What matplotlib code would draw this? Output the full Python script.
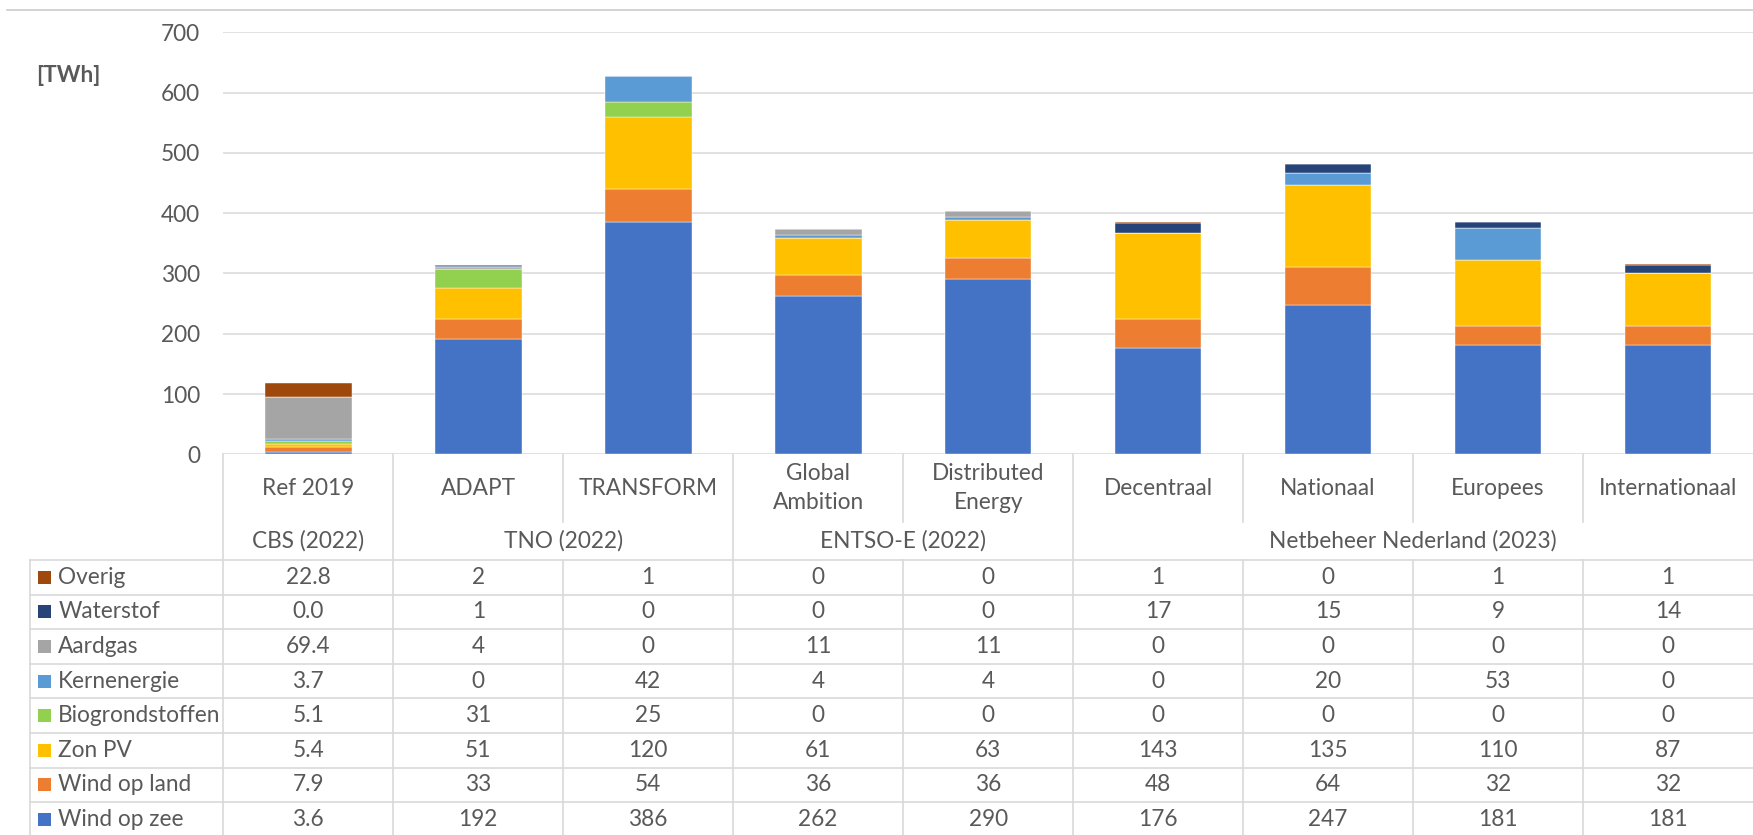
import matplotlib
matplotlib.use("Agg")
import matplotlib.pyplot as plt
from matplotlib.lines import Line2D
from matplotlib.patches import Rectangle
from matplotlib.transforms import blended_transform_factory
import numpy as np

plt.rcParams['font.family'] = ['Lato', 'DejaVu Sans']

# ---- data -------------------------------------------------------------
categories = ["Ref 2019", "ADAPT", "TRANSFORM", "Global\nAmbition", "Distributed\nEnergy",
              "Decentraal", "Nationaal", "Europees", "Internationaal"]
sources = ["CBS (2022)", "TNO (2022)", "ENTSO-E (2022)", "Netbeheer Nederland (2023)"]
source_span = [1, 2, 2, 4]

series_names = ["Wind op zee", "Wind op land", "Zon PV", "Biogrondstoffen",
                "Kernenergie", "Aardgas", "Waterstof", "Overig"]
wind_op_zee = [3.6, 192, 386, 262, 290, 176, 247, 181, 181]
wind_op_land = [7.9, 33, 54, 36, 36, 48, 64, 32, 32]
zon_pv = [5.4, 51, 120, 61, 63, 143, 135, 110, 87]
biogrondstoffen = [5.1, 31, 25, 0, 0, 0, 0, 0, 0]
kernenergie = [3.7, 0, 42, 4, 4, 0, 20, 53, 0]
aardgas = [69.4, 4, 0, 11, 11, 0, 0, 0, 0]
waterstof = [0.0, 1, 0, 0, 0, 17, 15, 9, 14]
overig = [22.8, 2, 1, 0, 0, 1, 0, 1, 1]
series_values = [wind_op_zee, wind_op_land, zon_pv, biogrondstoffen,
                 kernenergie, aardgas, waterstof, overig]
series_colors = ["#4472C4", "#ED7D31", "#FFC000", "#92D050",
                 "#5B9BD5", "#A5A5A5", "#264478", "#9E480E"]

y_ticks = [0, 100, 200, 300, 400, 500, 600, 700]
unit_label = "[TWh]"

# ---- layout (pixels) --------------------------------------------------
W, H = 1753, 835
TXT = "#595959"
GRID = "#D9D9D9"
FS = 16.3

fig = plt.figure(figsize=(W / 100, H / 100), dpi=100)
fig.patch.set_facecolor("white")

ax_left, ax_top, ax_bottom = 223.3, 32.3, 454.3
ax = fig.add_axes([ax_left / W, 1 - ax_bottom / H, (W - ax_left) / W, (ax_bottom - ax_top) / H])

def fy(y):
    return 1 - y / H

def fx(x):
    return x / W

n = len(categories)
x = np.arange(n)
bottom = np.zeros(n)
for name, vals, col in zip(series_names, series_values, series_colors):
    v = np.array(vals, dtype=float)
    ax.bar(x, v, width=0.51, bottom=bottom, color=col, edgecolor="white",
           linewidth=0.3, zorder=3, label=name)
    bottom += v

ax.set_xlim(-0.5, n - 0.5)
ax.set_ylim(0, 700)
ax.set_yticks(y_ticks)
ax.set_xticks([])
for s in ax.spines.values():
    s.set_visible(False)
ax.tick_params(axis="y", length=0, pad=16.8, labelsize=FS, labelcolor=TXT)
ax.yaxis.grid(True, color=GRID, linewidth=1.1, zorder=0)
ax.set_axisbelow(True)

# unit label
fig.text(fx(36), fy(76), unit_label, fontsize=FS, fontweight="bold", color=TXT,
         ha="left", va="center")

# top border line
fig.add_artist(Line2D([fx(7), 1], [fy(10.3), fy(10.3)], color="#C8C8C8", linewidth=1.1))

# ---- data table below the axis ---------------------------------------
tcol = blended_transform_factory(ax.transData, fig.transFigure)
y_axis = ax_bottom
y_cat_end = 521.7
y_rows_top = 560.0
row_h = 34.6
n_rows = len(series_names)
y_table_end = y_rows_top + row_h * n_rows
LW = 1.2

# group boundaries (continuous through the source row)
group_edges = [0]
for sp in source_span:
    group_edges.append(group_edges[-1] + sp)

for i in range(n):
    xb = i - 0.5
    top_end = y_table_end if i in group_edges else y_cat_end
    fig.add_artist(Line2D([xb, xb], [fy(y_axis), fy(top_end)], color=GRID,
                          linewidth=LW, transform=tcol))
    if i not in group_edges:
        fig.add_artist(Line2D([xb, xb], [fy(y_rows_top), fy(y_table_end)], color=GRID,
                              linewidth=LW, transform=tcol))

# left edge of the legend column
fig.add_artist(Line2D([fx(30), fx(30)], [fy(y_rows_top), fy(y_table_end)], color=GRID,
                      linewidth=LW))
# row lines
for k in range(n_rows + 1):
    yy = fy(y_rows_top + k * row_h)
    fig.add_artist(Line2D([fx(30), 1], [yy, yy], color=GRID, linewidth=LW))

# category labels
for i, cat in enumerate(categories):
    fig.text(i, fy(488.3), cat, transform=tcol, ha="center", va="center",
             fontsize=FS, color=TXT, linespacing=1.45)

# source labels
for g, src in enumerate(sources):
    center = (group_edges[g] + group_edges[g + 1] - 1) / 2
    fig.text(center, fy(541), src, transform=tcol, ha="center", va="center",
             fontsize=FS, color=TXT)

# table rows, top row is the last series
for r in range(n_rows):
    s = n_rows - 1 - r
    yc = y_rows_top + r * row_h + row_h / 2
    fig.add_artist(Rectangle((fx(37.7), fy(yc + 6.5)), 13.5 / W, 13 / H,
                             transform=fig.transFigure, facecolor=series_colors[s],
                             edgecolor="none"))
    fig.text(fx(58.3), fy(yc), series_names[s], ha="left", va="center",
             fontsize=FS, color=TXT)
    for i, v in enumerate(series_values[s]):
        label = f"{v:.1f}" if i == 0 else f"{v:.0f}"
        fig.text(i, fy(yc), label, transform=tcol, ha="center", va="center",
                 fontsize=FS, color=TXT)

fig.savefig("out.png", dpi=100, facecolor="white")
